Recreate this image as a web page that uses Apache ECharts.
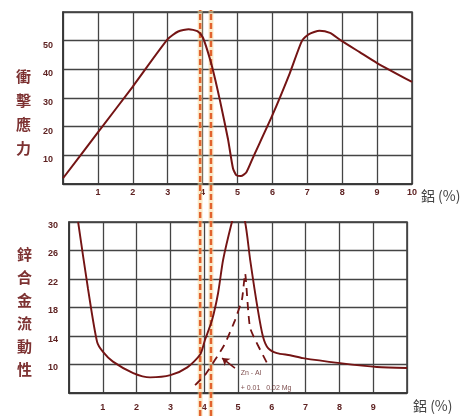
<!DOCTYPE html>
<html>
<head>
<meta charset="utf-8">
<script src="https://cdn.jsdelivr.net/npm/echarts@6/dist/echarts.min.js"></script>
<style>
html,body{margin:0;padding:0;background:#fff;}
#c{width:467px;height:416px;}
</style>
</head>
<body>
<div id="c"></div>
<script>
// ---- data ----
var topXLabels = [1,2,3,4,5,6,7,8,9,10];
var topYLabels = [10,20,30,40,50];
var bottomXLabels = [1,2,3,4,5,6,7,8,9];
var bottomYLabels = [10,14,18,22,26,30];

// impact stress vs Al %
var impactStress = [
  [0,2],[1,18],[2,34],[3,50.5],[3.3,53.2],[3.6,54],[3.85,53.3],[4.0,51.3],[4.1,48],
  [4.27,41],[4.5,29],[4.73,15.5],[4.87,5.5],[4.97,3],[5.1,2.8],[5.25,4],[5.45,9.4],
  [6,24],[6.5,38.7],[6.85,50],[7.05,52.3],[7.35,53.5],[7.65,52.7],[7.95,50.2],
  [8.5,46],[9,42.2],[10,35.6]
];
// fluidity of zinc alloy vs Al %
var fluidity = [
  [0.27,30],[0.56,20.7],[0.83,13.2],[1.0,11.8],[1.3,10.4],[1.9,8.8],[2.4,8.2],
  [3.0,8.5],[3.5,9.6],[3.88,11.4],[4.02,13.4],[4.23,16.2],[4.41,20],[4.56,24.7],
  [4.82,30],[5.0,33],[5.21,30],[5.36,24.7],[5.59,17.6],[5.74,13.9],[5.89,12.3],
  [6.15,11.6],[6.54,11.3],[6.92,10.9],[8.02,10.2],[9.11,9.65],[10,9.5]
];
// Zn-Al + 0.01 0.02 Mg (dashed)
var fluidityMg = [
  [3.73,7.1],[4.02,8.5],[4.59,12.7],[4.91,16.2],[5.12,19.2],[5.21,22.8],
  [5.36,15.1],[5.86,10.2]
];
var markerX = [3.93, 4.24];
var arrowFrom = [4.91, 9.5];
var arrowTo = [4.53, 10.9];
var noteLines = [[5.08, 8.8, 'Zn - Al'], [5.08, 6.75, '+ 0.01   0.02 Mg']];

var curveColor = '#741414';
var tickColor = '#5e2222';
var nameColor = '#7d3232';

function fmt(list){ return function(v){ return list.indexOf(v) >= 0 ? String(v) : ''; }; }

var labelStyle = {color: tickColor, fontSize: 9, fontWeight: 'bold', fontFamily: 'Liberation Sans'};
var gridLine = {show: true, lineStyle: {color: '#444', width: 1.3}};

var chart = echarts.init(document.getElementById('c'), null, {renderer: 'canvas'});

var series = [];
markerX.forEach(function(x){
  series.push({
    type: 'line', xAxisIndex: 2, yAxisIndex: 2, data: [[x,0],[x,1]],
    symbol: 'none', silent: true, z: 1,
    lineStyle: {color: 'rgba(246,214,150,0.5)', width: 5}
  });
  series.push({
    type: 'line', xAxisIndex: 2, yAxisIndex: 2, data: [[x,0],[x,1]],
    symbol: 'none', silent: true, z: 2,
    lineStyle: {color: '#e2632e', width: 2.5, type: [6,3]}
  });
});
series.push({
  type: 'line', xAxisIndex: 0, yAxisIndex: 0, data: impactStress,
  symbol: 'none', smooth: 0.2, z: 5,
  lineStyle: {color: curveColor, width: 2}
});
series.push({
  type: 'line', xAxisIndex: 1, yAxisIndex: 1, data: fluidity,
  symbol: 'none', smooth: 0.25, z: 5, clip: true,
  lineStyle: {color: curveColor, width: 1.9}
});
series.push({
  type: 'line', xAxisIndex: 1, yAxisIndex: 1, data: fluidityMg,
  symbol: 'none', smooth: 0.15, z: 5,
  lineStyle: {color: curveColor, width: 1.8, type: [8,6]},
  markLine: {
    silent: true, symbolSize: 7,
    lineStyle: {color: curveColor, width: 1.6, type: 'solid'},
    label: {show: false},
    data: [[{coord: arrowFrom, symbol: 'none'}, {coord: arrowTo, symbol: 'arrow'}]]
  }
});
series.push({
  type: 'scatter', xAxisIndex: 1, yAxisIndex: 1, data: noteLines,
  symbolSize: 0, z: 6,
  label: {show: true, position: 'right', distance: 0,
    formatter: function(p){ return p.value[2]; },
    color: tickColor, fontSize: 7, fontFamily: 'Liberation Sans'}
});

chart.setOption({
  animation: false,
  backgroundColor: '#fff',
  grid: [
    {left: 63, top: 12, width: 349, height: 172, show: true, borderColor: '#333', borderWidth: 1.5},
    {left: 69, top: 222, width: 338, height: 171, show: true, borderColor: '#333', borderWidth: 1.5},
    {left: 63, top: 10, width: 349, height: 406, show: false}
  ],
  xAxis: [
    {type: 'value', gridIndex: 0, min: 0, max: 10, interval: 1,
     axisLine: {show: true, lineStyle: {color: '#333', width: 1.5}}, axisTick: {show: false},
     splitLine: gridLine,
     axisLabel: Object.assign({formatter: fmt(topXLabels), margin: 4, showMaxLabel: true}, labelStyle),
     name: '鋁 (%)', nameLocation: 'end', nameGap: 7,
     nameTextStyle: {color: '#444', fontSize: 14, verticalAlign: 'top', padding: [5,0,0,0], fontFamily: 'Noto Sans CJK TC'}},
    {type: 'value', gridIndex: 1, min: 0, max: 10, interval: 1,
     axisLine: {show: true, lineStyle: {color: '#333', width: 1.5}}, axisTick: {show: false},
     splitLine: gridLine,
     axisLabel: Object.assign({formatter: fmt(bottomXLabels), margin: 10}, labelStyle),
     name: '鋁 (%)', nameLocation: 'end', nameGap: 6,
     nameTextStyle: {color: '#444', fontSize: 14, verticalAlign: 'top', padding: [6,0,0,0], fontFamily: 'Noto Sans CJK TC'}},
    {type: 'value', gridIndex: 2, min: 0, max: 10, show: false}
  ],
  yAxis: [
    {type: 'value', gridIndex: 0, min: 0, max: 60, interval: 10,
     axisLine: {show: true, lineStyle: {color: '#333', width: 1.5}}, axisTick: {show: false},
     splitLine: gridLine,
     axisLabel: Object.assign({formatter: fmt(topYLabels), margin: 10, verticalAlign: 'top'}, labelStyle)},
    {type: 'value', gridIndex: 1, min: 6, max: 30, interval: 4,
     axisLine: {show: true, lineStyle: {color: '#333', width: 1.5}}, axisTick: {show: false},
     splitLine: gridLine,
     axisLabel: Object.assign({formatter: fmt(bottomYLabels), margin: 11, verticalAlign: 'top', padding: [-1,0,0,0]}, labelStyle)},
    {type: 'value', gridIndex: 2, min: 0, max: 1, show: false}
  ],
  graphic: [
    {type: 'text', left: 16, top: 64,
     style: {text: '衝\n擊\n應\n力', fill: nameColor, fontSize: 15, lineHeight: 24,
             fontFamily: 'Noto Sans CJK TC', fontWeight: 'bold'}},
    {type: 'text', left: 17, top: 243,
     style: {text: '鋅\n合\n金\n流\n動\n性', fill: nameColor, fontSize: 15, lineHeight: 23,
             fontFamily: 'Noto Sans CJK TC', fontWeight: 'bold'}}
  ],
  series: series
});
</script>
</body>
</html>
